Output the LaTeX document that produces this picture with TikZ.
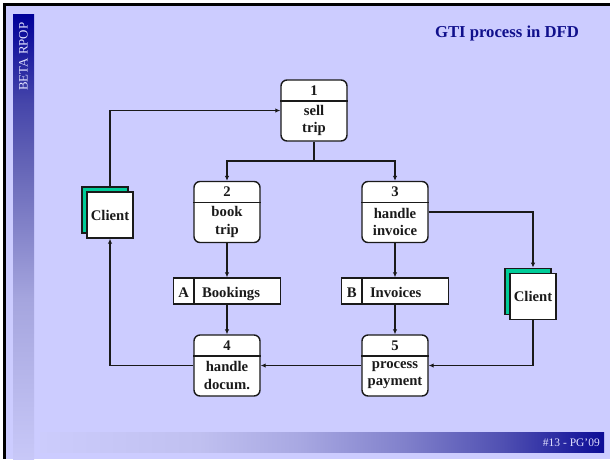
\documentclass[tikz,border=0pt]{standalone}
\usepackage{fontspec}
\setmainfont{Liberation Serif}
\usetikzlibrary{arrows.meta}

\definecolor{slidebg}{RGB}{204,204,255}
\definecolor{navy}{RGB}{0,0,153}
\definecolor{titleblue}{RGB}{16,16,140}
\definecolor{shadowgreen}{RGB}{0,204,153}
\definecolor{edge}{RGB}{26,26,26}
\definecolor{barlabel}{RGB}{225,225,255}

% side bar: dark navy at the top fading into the slide colour
\definecolor{sbA}{RGB}{200,200,248}
\definecolor{sbB}{RGB}{165,165,222}
\definecolor{sbC}{RGB}{105,105,185}
\definecolor{sbD}{RGB}{70,70,170}
\definecolor{sbE}{RGB}{0,0,153}
\pgfdeclareverticalshading{sidebar}{100bp}{color(0bp)=(sbA); color(25bp)=(sbA);
  color(43bp)=(sbB); color(57bp)=(sbC); color(65bp)=(sbD); color(75bp)=(sbE); color(100bp)=(sbE)}

% footer bar: slide colour on the left, dark navy on the right
\definecolor{fbA}{RGB}{204,204,252}
\definecolor{fbB}{RGB}{192,192,240}
\definecolor{fbC}{RGB}{168,168,226}
\definecolor{fbD}{RGB}{130,130,204}
\definecolor{fbE}{RGB}{80,80,178}
\definecolor{fbF}{RGB}{12,12,150}
\pgfdeclarehorizontalshading{footbar}{100bp}{color(0bp)=(fbA); color(25bp)=(fbA);
  color(39bp)=(fbB); color(48bp)=(fbC); color(57bp)=(fbD); color(66bp)=(fbE); color(75bp)=(fbF); color(100bp)=(fbF)}

\tikzset{
  proc/.style={draw=edge, line width=1.4pt, fill=white, rounded corners=6pt,
    minimum width=66pt, minimum height=61pt, inner sep=0pt},
  store/.style={draw=edge, line width=1.4pt, fill=white,
    minimum width=107pt, minimum height=26pt, inner sep=0pt},
  entity/.style={draw=edge, line width=1.4pt, fill=white, minimum size=46pt, inner sep=0pt},
  entshadow/.style={entity, fill=shadowgreen},
  divider/.style={draw=edge, line width=1.4pt},
  lbl/.style={font=\bfseries\fontsize{14.7}{17.5}\selectfont, align=center,
    inner sep=0pt, text=edge},
  flowline/.style={draw=edge, line width=1.3pt},
  flow/.style={flowline, -{Latex[length=5pt,width=4.5pt]}},
}

% process: name, x, y, number, description
\newcommand{\dfdprocess}[5]{%
  \node[proc] (#1) at (#2,#3) {};
  \draw[divider] ([yshift=-21.5pt]#1.north west) -- ([yshift=-21.5pt]#1.north east);
  \node[lbl] (#1-num) at ([yshift=-11pt]#1.north) {#4};
  \node[lbl] (#1-txt) at ([yshift=-41pt]#1.north) {#5};
}
% data store: name, x, y, letter, description
\newcommand{\dfdstore}[5]{%
  \node[store] (#1) at (#2,#3) {};
  \draw[divider] ([xshift=21pt]#1.north west) -- ([xshift=21pt]#1.south west);
  \node[lbl, anchor=base] (#1-id) at ([xshift=11pt,yshift=-6pt]#1.west) {#4};
  \node[lbl, anchor=base west] (#1-txt) at ([xshift=29pt,yshift=-6pt]#1.west) {#5};
}
% external entity with its offset shadow: name, x, y
\newcommand{\dfdentity}[3]{%
  \node[entshadow] (#1-s) at (#2-5,#3-5) {};
  \node[entity] (#1) at (#2,#3) {};
  \node[lbl] (#1-txt) at (#1) {Client};
}

\begin{document}
\begin{tikzpicture}[x=1pt,y=-1pt]
  \useasboundingbox (0,0) rectangle (610,459);

  % slide background and frame
  \fill[white] (0,0) rectangle (610,459);
  \fill[slidebg] (3,4) rectangle (610,459);
  \fill[black] (3,3) rectangle (610,6);
  \fill[black] (3,3) rectangle (5.5,459);

  % side bar and footer bar
  \shade[shading=sidebar] (13,14) rectangle (34,459);
  \node[rotate=90, text=barlabel, font=\fontsize{12.9}{15}\selectfont, inner sep=0pt]
    (sidelabel) at (23.5,56.7) {BETA RPOP};
  \shade[shading=footbar] (40,432) rectangle (604,452);
  \node[anchor=base east, text=barlabel, font=\fontsize{11.5}{14}\selectfont, inner sep=0pt]
    (footer) at (600,446.5) {\#13 - PG’09};

  % title
  \node[anchor=base, text=titleblue, font=\bfseries\fontsize{16.7}{20}\selectfont, inner sep=0pt]
    (title) at (507,37) {GTI process in DFD};

  % processes
  \dfdprocess{p1}{314}{110.5}{1}{sell\\trip}
  \dfdprocess{p2}{227}{212}{2}{book\\trip}
  \dfdprocess{p3}{395}{212}{3}{handle\\invoice}
  \dfdprocess{p4}{227}{365.5}{4}{handle\\docum.}
  \dfdprocess{p5}{395}{365.5}{5}{process\\payment}

  % data stores
  \dfdstore{dsA}{227}{291}{A}{Bookings}
  \dfdstore{dsB}{395}{291}{B}{Invoices}

  % external entities
  \dfdentity{cL}{110}{215}
  \dfdentity{cR}{533}{296.3}

  % data flows
  \coordinate (split) at (314,161);
  \draw[flowline] (p1.south) -- (split);
  \draw[flow] (split) -| (p2.north);
  \draw[flow] (split) -| (p3.north);
  \draw[flow] (p2.south) -- (dsA.north);
  \draw[flow] (dsA.south) -- (p4.north);
  \draw[flow] (p3.south) -- (dsB.north);
  \draw[flow] (dsB.south) -- (p5.north);
  \draw[flow] (p3.east) -| (cR.north |- cR-s.north);
  \draw[flow] (cR.south) |- (p5.east);
  \draw[flow] (p5.west) -- (p4.east);
  \draw[flow] (p4.west) -| (cL.south);
  \draw[flow] (cL.north |- cL-s.north) |- (p1.west);
\end{tikzpicture}
\end{document}
